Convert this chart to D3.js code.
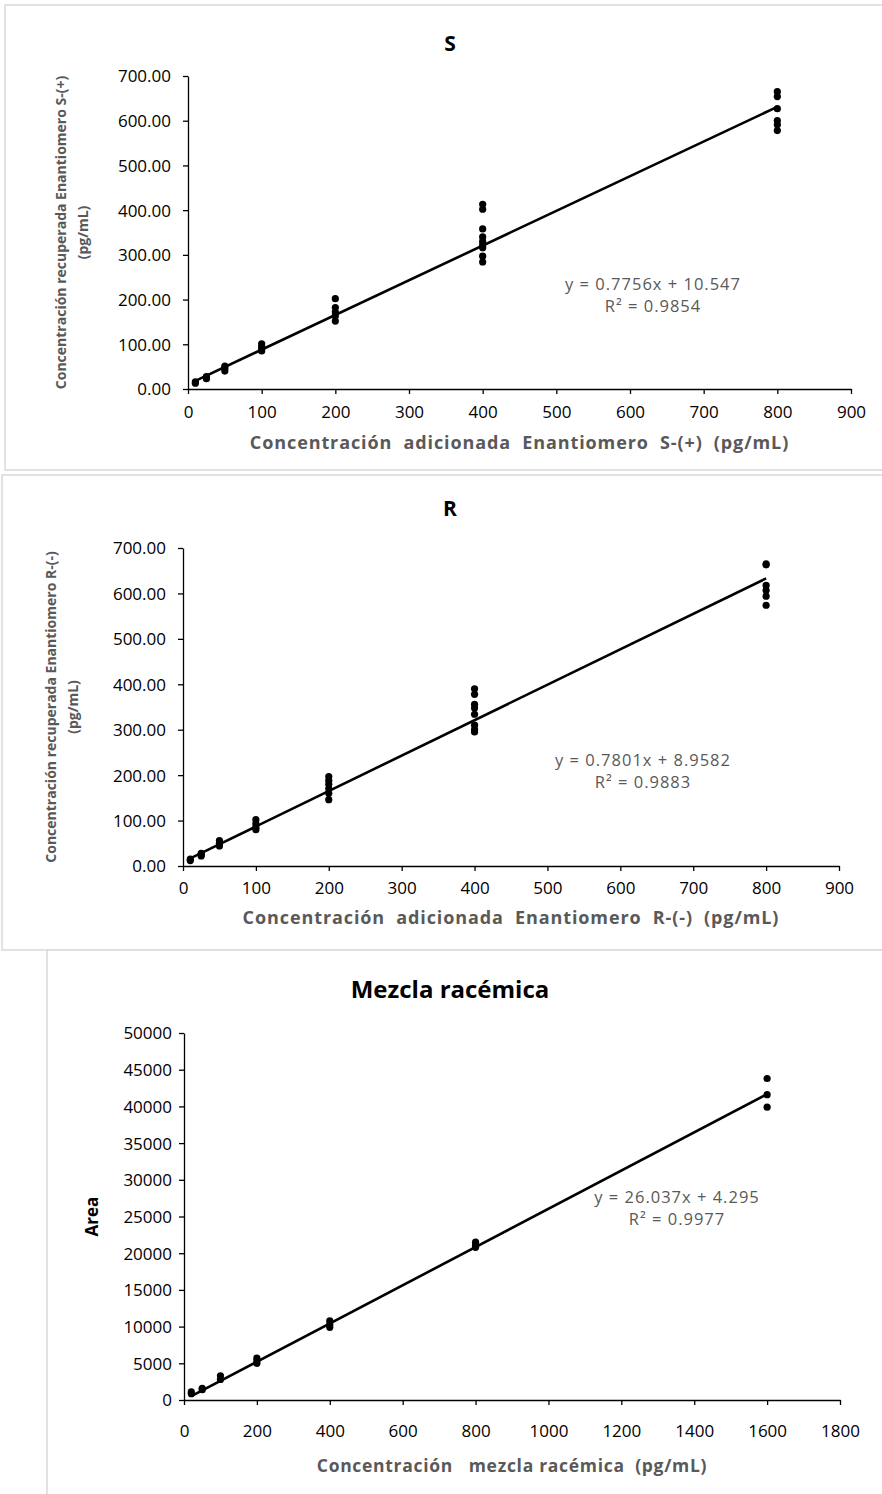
<!DOCTYPE html>
<html><head><meta charset="utf-8">
<script src="https://cdn.jsdelivr.net/npm/d3@7"></script>
<style>
body{margin:0;background:#fff;}
text{font-family:"Open Sans","DejaVu Sans",sans-serif;}
</style></head>
<body>
<svg id="c" width="882" height="1494"></svg>
<script>
// ---- Data ----
const sConc = [10,10,25,25,25,50,50,50,100,100,100,100,200,200,200,200,200,400,400,400,400,400,400,400,400,400,800,800,800,800,800,800];
const sRecovered = [16,13,28,25,23,51,46,40,101,95,90,85,202,182,172,163,152,413,402,358,340,330,322,316,297,284,665,654,627,600,591,578];
const sFit = [0.7756, 10.547];
const sR2 = "0.9854";

const rConc = [10,10,25,25,25,50,50,50,100,100,100,100,200,200,200,200,200,200,400,400,400,400,400,400,400,400,800,800,800,800,800,800];
const rRecovered = [15,12,28,25,22,56,50,44,102,93,85,80,197,188,180,170,160,146,390,378,356,348,334,310,300,295,665,663,618,607,594,574];
const rFit = [0.7801, 8.9582];
const rR2 = "0.9883";

const mConc = [20,20,50,50,100,100,200,200,200,400,400,400,800,800,800,1600,1600,1600];
const mArea = [1100,850,1600,1400,3300,2800,5700,5300,5000,10800,10300,9900,21500,21100,20800,43800,41600,39900];
const mFit = [26.037, 4.295];
const mR2 = "0.9977";

const ticksS = [0,100,200,300,400,500,600,700,800,900];
const ticksYS = [0,100,200,300,400,500,600,700];
const ticksM = [0,200,400,600,800,1000,1200,1400,1600,1800];
const ticksYM = [0,5000,10000,15000,20000,25000,30000,35000,40000,45000,50000];

const svg = d3.select("#c");
const gray = "#595959";

function chart(o){
  svg.append("rect").attr("x",o.frame[0]).attr("y",o.frame[1]).attr("width",o.frame[2]).attr("height",o.frame[3])
    .attr("fill","#fff").attr("stroke","#d9d9d9").attr("stroke-width",1.5);
  const x = d3.scaleLinear().domain(o.xd).range(o.xr);
  const y = d3.scaleLinear().domain(o.yd).range(o.yr);
  const g = svg.append("g");
  const xa = g.append("g").attr("transform",`translate(0,${o.yr[0]})`)
    .call(d3.axisBottom(x).tickValues(o.xt).tickSize(5).tickSizeOuter(0).tickFormat(d3.format("d")));
  const ya = g.append("g").attr("transform",`translate(${o.xr[0]},0)`)
    .call(d3.axisLeft(y).tickValues(o.yt).tickSize(5).tickSizeOuter(0).tickFormat(o.yf));
  [xa,ya].forEach(a=>{
    a.select(".domain").attr("stroke","#000").attr("stroke-width",1.3);
    a.selectAll(".tick line").attr("stroke","#000").attr("stroke-width",1.3);
    a.selectAll("text").attr("fill","#000").style("font-size","17px")
      .style("font-family",'"Open Sans","DejaVu Sans",sans-serif');
  });
  xa.selectAll("text").attr("dy","0").attr("y",o.xLabDy);
  ya.selectAll("text").attr("x",-o.yLabDx).attr("dy","0.35em");
  const xmin = d3.min(o.xs), xmax = d3.max(o.xs);
  g.append("line").attr("x1",x(xmin)).attr("y1",y(o.fit[0]*xmin+o.fit[1]))
    .attr("x2",x(xmax)).attr("y2",y(o.fit[0]*xmax+o.fit[1]))
    .attr("stroke","#000").attr("stroke-width",2.6);
  g.selectAll("circle.p").data(o.xs.map((v,i)=>[v,o.ys[i]])).join("circle")
    .attr("cx",d=>x(d[0])).attr("cy",d=>y(d[1])).attr("r",3.6).attr("fill","#000");
  svg.append("text").attr("x",o.title[1]).attr("y",o.title[2]).attr("text-anchor","middle")
    .style("font-size",o.title[3]+"px").style("font-weight","bold")
    .attr("fill","#000").text(o.title[0]);
  svg.append("text").attr("x",(o.xr[0]+o.xr[1])/2).attr("y",o.xTitleY).attr("text-anchor","middle")
    .style("font-size",o.xTitleSize+"px").style("font-weight","bold").attr("fill",gray)
    .style("letter-spacing",o.xTitleLs+"px")
    .attr("xml:space","preserve").text(o.xTitle);
  const cy = (o.yr[0]+o.yr[1])/2;
  o.yTitle.forEach((t,i)=>{
    svg.append("text").attr("transform",`translate(${o.yTitleX[i]},${cy}) rotate(-90)`).attr("text-anchor","middle")
      .style("font-size",o.yTitleSize+"px").style("font-weight","bold").attr("fill",o.yTitleColor).text(t);
  });
  svg.append("text").attr("x",o.eq[0]).attr("y",o.eq[1]).attr("text-anchor","middle")
    .style("font-size","16.5px").style("letter-spacing","1px").attr("fill",gray)
    .text(`y = ${o.fit[0]}x + ${o.fit[1]}`);
  svg.append("text").attr("x",o.eq[0]).attr("y",o.eq[1]+22).attr("text-anchor","middle")
    .style("font-size","16.5px").style("letter-spacing","1px").attr("fill",gray)
    .text(`R² = ${o.r2}`);
}

const f2 = d3.format(".2f");

chart({frame:[5,5,900,465], xd:[0,900], xr:[188,851], yd:[0,700], yr:[389,76],
  xt:ticksS, yt:ticksYS, yf:f2, xs:sConc, ys:sRecovered, fit:sFit, r2:sR2,
  title:["S",450,51,21], xLabDy:29, yLabDx:17,
  xTitle:"Concentración  adicionada  Enantiomero  S-(+)  (pg/mL)", xTitleY:449, xTitleSize:18, xTitleLs:0.9,
  yTitle:["Concentración recuperada Enantiomero S-(+)","(pg/mL)"], yTitleX:[66,88], yTitleSize:14, yTitleColor:gray,
  eq:[653,290]});

chart({frame:[2,475,900,475], xd:[0,900], xr:[183,839], yd:[0,700], yr:[866,548],
  xt:ticksS, yt:ticksYS, yf:f2, xs:rConc, ys:rRecovered, fit:rFit, r2:rR2,
  title:["R",450,516,21], xLabDy:28, yLabDx:17,
  xTitle:"Concentración  adicionada  Enantiomero  R-(-)  (pg/mL)", xTitleY:924, xTitleSize:18, xTitleLs:0.9,
  yTitle:["Concentración recuperada Enantiomero R-(-)","(pg/mL)"], yTitleX:[56,78], yTitleSize:14, yTitleColor:gray,
  eq:[643,766]});

chart({frame:[47,950,900,600], xd:[0,1800], xr:[184,840], yd:[0,50000], yr:[1400,1033],
  xt:ticksM, yt:ticksYM, yf:d3.format("d"), xs:mConc, ys:mArea, fit:mFit, r2:mR2,
  title:["Mezcla racémica",450,998,24], xLabDy:37, yLabDx:12,
  xTitle:"Concentración   mezcla racémica  (pg/mL)", xTitleY:1472, xTitleSize:17.5, xTitleLs:0.7,
  yTitle:["Area"], yTitleX:[98], yTitleSize:17, yTitleColor:"#000",
  eq:[677,1203]});
</script>
</body></html>
